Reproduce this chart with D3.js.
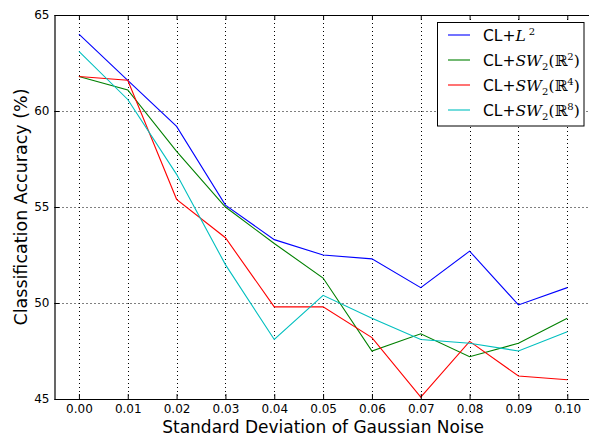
<!DOCTYPE html>
<html>
<head>
<meta charset="utf-8">
<script src="https://cdn.jsdelivr.net/npm/d3@7"></script>
<style>
  body { margin: 0; background: #fff; }
  svg { display: block; }
  text { font-family: "DejaVu Sans", sans-serif; }
</style>
</head>
<body>
<div id="main"></div>
<script>
// noise levels on x axis
const noise = [0.00, 0.01, 0.02, 0.03, 0.04, 0.05, 0.06, 0.07, 0.08, 0.09, 0.10];

// accuracies
const clL2  = [64.0, 61.6, 59.2, 55.1, 53.3, 52.5, 52.3, 50.8, 52.7, 49.9, 50.8];
const clSW2 = [61.8, 61.1, 57.9, 55.0, 53.1, 51.3, 47.5, 48.4, 47.2, 47.9, 49.2];
const clSW4 = [61.8, 61.6, 55.4, 53.4, 49.8, 49.8, 48.2, 45.1, 48.0, 46.2, 46.0];
const clSW8 = [63.1, 60.6, 56.7, 52.0, 48.1, 50.4, 49.2, 48.1, 47.9, 47.5, 48.5];

const yTicks = [45, 50, 55, 60, 65];

const series = [
    {sup: '2', kind: 'L', values: clL2, color: '#0000ff'},
    {sup: '2', kind: 'SW', values: clSW2, color: '#008000'},
    {sup: '4', kind: 'SW', values: clSW4, color: '#ff0000'},
    {sup: '8', kind: 'SW', values: clSW8, color: '#00bfbf'}
];

const w = 589;
const h = 439;
const padL = 54.5, padT = 15, padB = 399, padR = 591.7;

const svg = d3.select('#main')
    .append('svg')
    .attr('width', w)
    .attr('height', h);

const x = d3.scaleLinear().domain([-0.005, 0.105]).range([padL, padR]);
const y = d3.scaleLinear().domain([45, 65]).range([padB, padT]);

// grid
const grid = svg.append('g')
    .attr('stroke', '#000')
    .attr('stroke-width', 1)
    .attr('stroke-dasharray', '1,3');

grid.selectAll('.vg')
    .data(noise)
    .enter()
    .append('line')
    .attr('x1', d => Math.round(x(d)) + 0.5)
    .attr('x2', d => Math.round(x(d)) + 0.5)
    .attr('y1', padT)
    .attr('y2', padB);

grid.selectAll('.hg')
    .data(yTicks)
    .enter()
    .append('line')
    .attr('x1', padL)
    .attr('x2', padR)
    .attr('y1', d => Math.round(y(d)) + 0.5)
    .attr('y2', d => Math.round(y(d)) + 0.5);

// lines
const line = d3.line()
    .x((d, i) => x(noise[i]))
    .y(d => y(d));

svg.append('g')
    .selectAll('path')
    .data(series)
    .enter()
    .append('path')
    .attr('fill', 'none')
    .attr('stroke', d => d.color)
    .attr('stroke-width', 1.1)
    .attr('d', d => line(d.values));

// axes (ticks pointing inwards, like matplotlib classic)
const xAxis = svg.append('g')
    .attr('transform', `translate(0, ${padB})`)
    .call(d3.axisBottom(x).tickValues(noise).tickSizeInner(-5).tickSizeOuter(0).tickPadding(5).tickFormat(d3.format('.2f')));

const xTop = svg.append('g')
    .attr('transform', `translate(0, ${padT})`)
    .call(d3.axisTop(x).tickValues(noise).tickSizeInner(-5).tickSizeOuter(0).tickFormat(''));

const yAxis = svg.append('g')
    .attr('transform', `translate(${padL}, 0)`)
    .call(d3.axisLeft(y).tickValues(yTicks).tickSizeInner(-5).tickSizeOuter(0).tickPadding(5).tickFormat(d3.format('d')));

[xAxis, xTop, yAxis].forEach(a => {
    a.select('.domain').attr('stroke', '#000').attr('stroke-width', 1.2);
    a.selectAll('.tick line').attr('stroke', '#000');
    a.selectAll('text')
        .attr('fill', '#000')
        .style('font-size', '12px')
        .style('font-family', '"DejaVu Sans", sans-serif');
});

// axis titles
svg.append('text')
    .attr('x', (padL + padR) / 2)
    .attr('y', 433)
    .attr('text-anchor', 'middle')
    .style('font-size', '17px')
    .text('Standard Deviation of Gaussian Noise');

svg.append('text')
    .attr('transform', `translate(27, ${(padT + padB) / 2}) rotate(-90)`)
    .attr('text-anchor', 'middle')
    .style('font-size', '17.5px')
    .text('Classification Accuracy (%)');

// legend
const legend = svg.append('g');

legend.append('rect')
    .attr('x', 437.5)
    .attr('y', 22.5)
    .attr('width', 146.5)
    .attr('height', 103.5)
    .attr('fill', '#fff')
    .attr('stroke', '#000')
    .attr('stroke-width', 1);

const item = legend.selectAll('.legend-item')
    .data(series)
    .enter()
    .append('g')
    .attr('class', 'legend-item')
    .attr('transform', (d, i) => `translate(0, ${35 + i * 25})`);

item.append('line')
    .attr('x1', 448)
    .attr('x2', 470)
    .attr('stroke', d => d.color)
    .attr('stroke-width', 1.1);

const label = item.append('text')
    .attr('x', 483)
    .attr('y', 5.5)
    .style('font-size', '15.5px')
    .style('font-family', '"DejaVu Sans", sans-serif');

label.append('tspan')
    .style('font-family', '"DejaVu Sans", sans-serif')
    .text('CL+');

label.each(function(d) {
    const t = d3.select(this);
    const serif = '"DejaVu Serif", serif';
    if (d.kind === 'L') {
        t.append('tspan').style('font-family', serif).style('font-style', 'italic').text('L');
        t.append('tspan').attr('dx', 3).attr('dy', -6).style('font-size', '10px').style('font-family', serif).text(d.sup);
    } else {
        t.append('tspan').style('font-family', serif).style('font-style', 'italic').text('SW');
        t.append('tspan').attr('dy', 4).style('font-size', '10px').style('font-family', serif).text('2');
        t.append('tspan').attr('dy', -4).style('font-family', serif).text('(ℝ');
        t.append('tspan').attr('dy', -6).style('font-size', '10px').style('font-family', serif).text(d.sup);
        t.append('tspan').attr('dy', 6).style('font-family', serif).text(')');
    }
});
</script>
</body>
</html>
